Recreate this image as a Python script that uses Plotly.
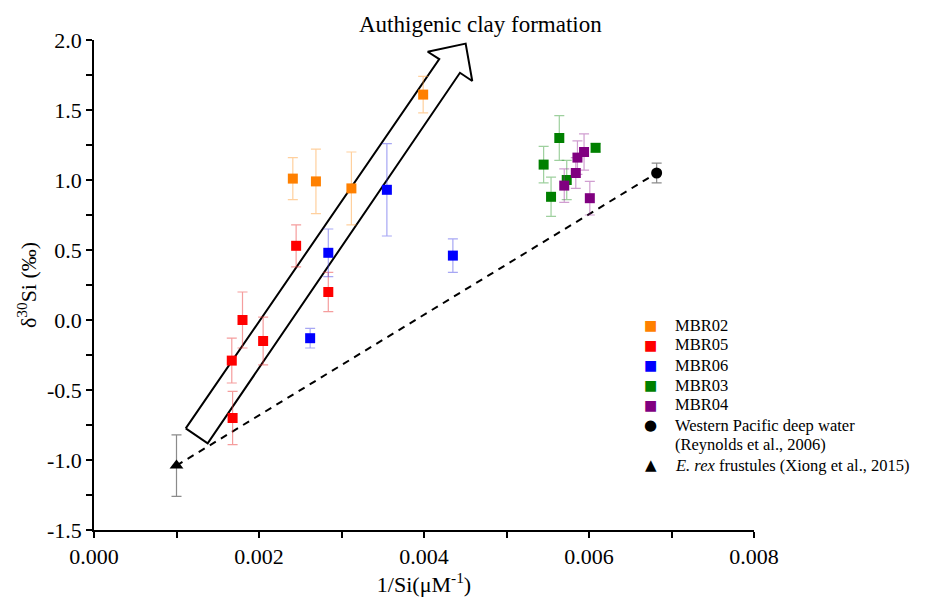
import plotly.graph_objects as go

# ---- data (x = 1/Si in uM^-1, y = d30Si in permil, e = error) ----
mbr02_x = [0.00241, 0.00269, 0.00312, 0.00399]
mbr02_y = [1.01, 0.99, 0.94, 1.61]
mbr02_e = [0.15, 0.23, 0.26, 0.13]

mbr05_x = [0.00167, 0.00168, 0.00180, 0.00205, 0.00245, 0.00284]
mbr05_y = [-0.29, -0.70, 0.00, -0.15, 0.53, 0.20]
mbr05_e = [0.16, 0.19, 0.20, 0.17, 0.15, 0.14]

mbr06_x = [0.00262, 0.00284, 0.00355, 0.00435]
mbr06_y = [-0.13, 0.48, 0.93, 0.46]
mbr06_e = [0.07, 0.17, 0.33, 0.12]

mbr03_x = [0.00564, 0.00545, 0.00608, 0.00573, 0.00554]
mbr03_y = [1.30, 1.11, 1.23, 1.00, 0.88]
mbr03_e = [0.16, 0.13, 0.03, 0.14, 0.14]

mbr04_x = [0.00594, 0.00586, 0.00584, 0.00570, 0.00601]
mbr04_y = [1.20, 1.16, 1.05, 0.96, 0.87]
mbr04_e = [0.13, 0.12, 0.11, 0.12, 0.12]

wp_x = [0.00682]
wp_y = [1.05]
wp_e = [0.07]

erex_x = [0.00100]
erex_y = [-1.04]
erex_e = [0.22]

# hollow arrow outline (data coordinates)
arrow_x = [0.001112, 0.004185, 0.004045, 0.004505, 0.004585, 0.004436, 0.001378, 0.001112]
arrow_y = [-0.774, 1.864, 1.916, 1.974, 1.707, 1.766, -0.881, -0.774]

# tick labels
x_tick_vals = [0.000, 0.002, 0.004, 0.006, 0.008]
x_tick_text = ["0.000", "0.002", "0.004", "0.006", "0.008"]
y_tick_vals = [-1.5, -1.0, -0.5, 0.0, 0.5, 1.0, 1.5, 2.0]
y_tick_text = ["-1.5", "-1.0", "-0.5", "0.0", "0.5", "1.0", "1.5", "2.0"]

# legend entries (label lines, colour, glyph)
legend_labels = ["MBR02", "MBR05", "MBR06", "MBR03", "MBR04",
                 "Western Pacific deep water", "(Reynolds et al., 2006)",
                 "<i>E. rex</i> frustules (Xiong et al., 2015)"]
legend_glyphs = ["■", "■", "■", "■", "■", "●", "", "▲"]
legend_colors = ["#FF8000", "#FF0000", "#0000FF", "#008000", "#800080",
                 "#000000", "#000000", "#000000"]

FONT = "Liberation Serif, Times New Roman, serif"

series = [
    ("MBR02", mbr02_x, mbr02_y, mbr02_e, "#FF8000", "rgba(255,150,40,0.45)", "square", 10),
    ("MBR05", mbr05_x, mbr05_y, mbr05_e, "#FF0000", "rgba(235,60,60,0.5)", "square", 10),
    ("MBR06", mbr06_x, mbr06_y, mbr06_e, "#0000FF", "rgba(60,60,230,0.45)", "square", 10),
    ("MBR03", mbr03_x, mbr03_y, mbr03_e, "#008000", "rgba(40,150,40,0.45)", "square", 10),
    ("MBR04", mbr04_x, mbr04_y, mbr04_e, "#800080", "rgba(150,40,150,0.45)", "square", 10),
    ("Western Pacific deep water (Reynolds et al., 2006)", wp_x, wp_y, wp_e, "#000000", "rgba(90,90,90,0.7)", "circle", 11),
    ("E. rex frustules (Xiong et al., 2015)", erex_x, erex_y, erex_e, "#000000", "rgba(90,90,90,0.7)", "triangle-up", 12),
]

fig = go.Figure()

# arrow outline
fig.add_trace(go.Scatter(x=arrow_x, y=arrow_y, mode="lines",
                         line=dict(color="black", width=2), showlegend=False,
                         hoverinfo="skip"))

# dashed mixing line from E. rex to Western Pacific deep water
fig.add_trace(go.Scatter(x=[erex_x[0], wp_x[0]], y=[erex_y[0], wp_y[0]], mode="lines",
                         line=dict(color="black", width=2, dash="7px,6px"),
                         showlegend=False, hoverinfo="skip"))

for name, xs, ys, es, col, ecol, sym, size in series:
    fig.add_trace(go.Scatter(
        x=xs, y=ys, mode="markers", name=name, showlegend=False,
        marker=dict(color=col, symbol=sym, size=size, line=dict(width=0)),
        error_y=dict(type="data", array=es, visible=True, color=ecol,
                     thickness=1.2, width=5),
    ))

fig.add_annotation(text="Authigenic clay formation", xref="paper", yref="paper",
                   x=0.585, y=(530 - 24) / 490.0, xanchor="center", yanchor="middle",
                   showarrow=False, font=dict(family=FONT, size=23, color="black"))

# manual legend (screen rows 20 px apart)
row0 = (530 - 325) / 490.0
step = 20 / 490.0
for i, (lab, gl, col) in enumerate(zip(legend_labels, legend_glyphs, legend_colors)):
    yy = row0 - i * step
    if gl:
        gsize = 14 if gl == "■" else 15
        fig.add_annotation(text=gl, xref="paper", yref="paper", x=0.8439, y=yy,
                           xanchor="center", yanchor="middle", showarrow=False,
                           font=dict(family="DejaVu Sans", size=gsize, color=col))
    fig.add_annotation(text=lab, xref="paper", yref="paper", x=0.877, y=yy,
                       xanchor="left", yanchor="middle", showarrow=False,
                       font=dict(family=FONT, size=16.5, color="black"))

axis_common = dict(
    showline=True, linecolor="black", linewidth=1.5, mirror=False,
    ticks="outside", ticklen=6, tickwidth=1.5, tickcolor="black",
    showgrid=False, zeroline=False,
    tickfont=dict(family=FONT, size=22, color="black"),
)

fig.update_xaxes(range=[0, 0.008], tickvals=x_tick_vals, ticktext=x_tick_text,
                 minor=dict(dtick=0.001, tick0=0, ticks="outside", ticklen=6,
                            tickwidth=1.5, tickcolor="black"),
                 title=dict(text="1/Si(μM<sup>-1</sup>)",
                            font=dict(family=FONT, size=22, color="black"),
                            standoff=6),
                 **axis_common)
fig.update_yaxes(range=[-1.5, 2.0], tickvals=y_tick_vals, ticktext=y_tick_text,
                 minor=dict(dtick=0.25, tick0=0, ticks="outside", ticklen=6,
                            tickwidth=1.5, tickcolor="black"),
                 title=dict(text="δ<sup>30</sup>Si (‰)",
                            font=dict(family=FONT, size=22, color="black"),
                            standoff=4),
                 **axis_common)

fig.update_layout(
    width=927, height=600,
    margin=dict(l=86, r=181, t=32, b=78),
    plot_bgcolor="white", paper_bgcolor="white",
    font=dict(family=FONT, color="black"),
    showlegend=False,
)

fig.write_html("out.html")
